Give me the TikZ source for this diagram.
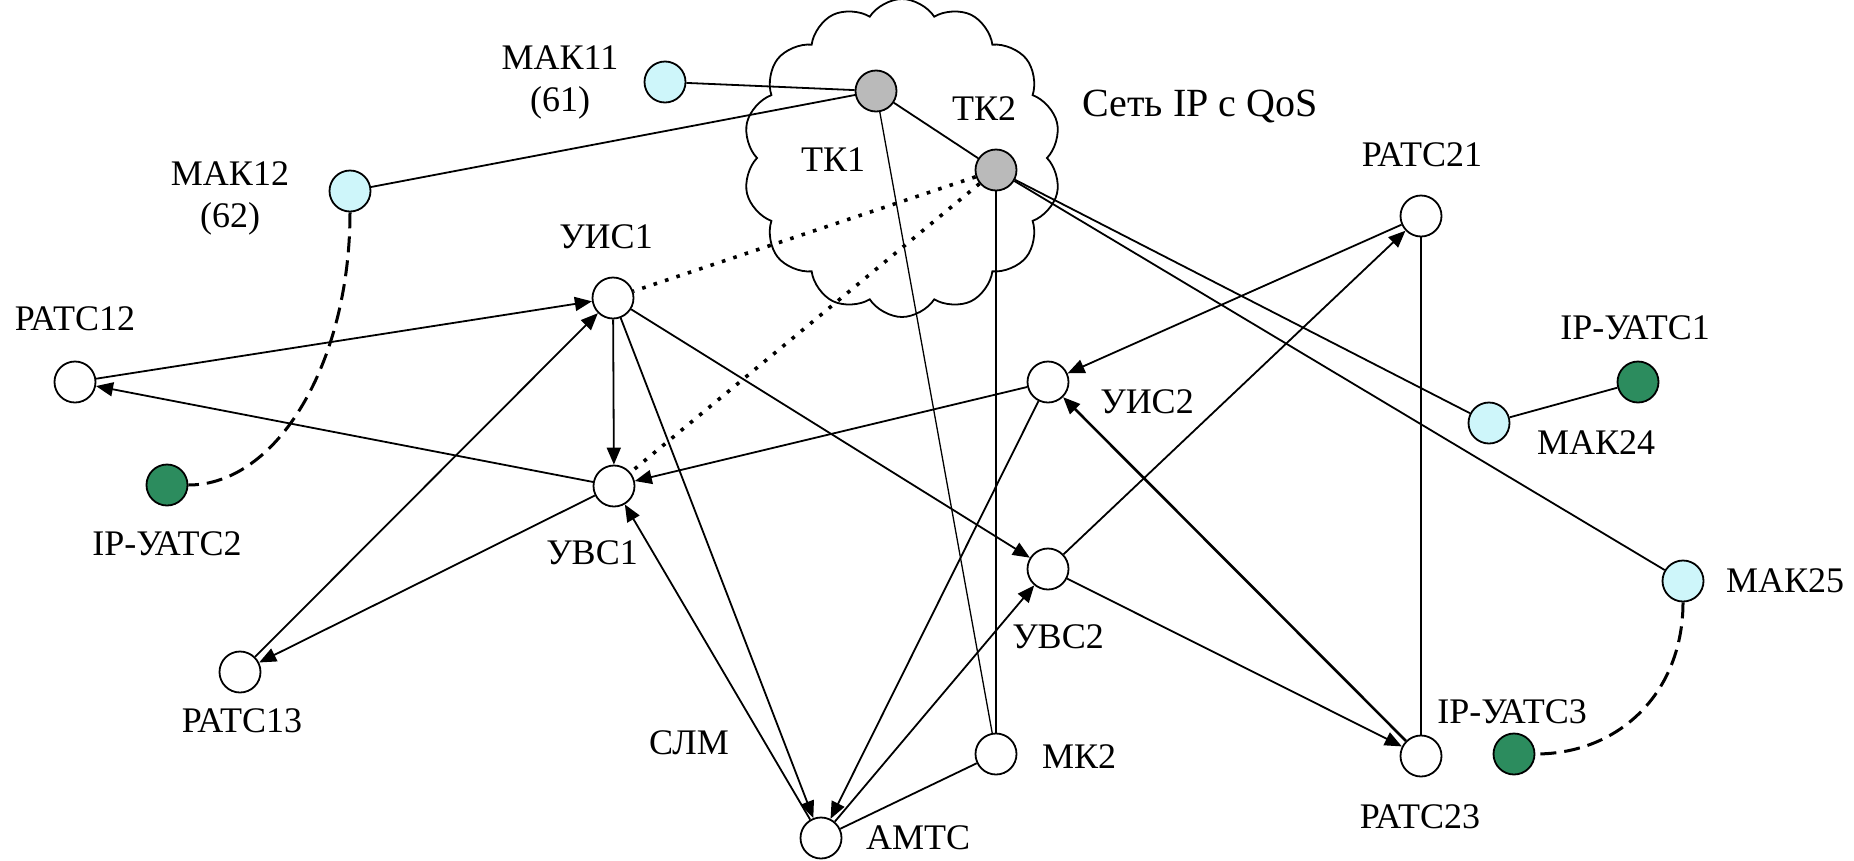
\documentclass[tikz,border=0pt]{standalone}
\usepackage{fontspec}
\setmainfont{Liberation Serif}
\usetikzlibrary{arrows.meta,shapes.symbols}
\definecolor{gwcyan}{RGB}{206,246,250}
\definecolor{coregray}{RGB}{186,186,186}
\definecolor{ipgreen}{RGB}{44,140,94}
\begin{document}
\begin{tikzpicture}[x=1pt,y=-1pt,
  station/.style={circle,draw,line width=1.8pt,minimum size=41pt,inner sep=0pt},
  exch/.style={station,fill=white},
  gw/.style={station,fill=gwcyan},
  core/.style={station,fill=coregray},
  ipx/.style={station,fill=ipgreen},
  lbl/.style={font=\fontsize{36}{42}\selectfont,inner sep=0pt,align=center},
  link/.style={line width=1.8pt},
  thinlink/.style={line width=1.3pt},
  arr/.style={link,-{Triangle[length=17pt,width=14pt]}},
  boldarr/.style={line width=2.6pt,-{Triangle[length=17pt,width=14pt]}},
  dots/.style={line width=3.6pt,dash pattern=on 3.6pt off 8.4pt},
  ipcurve/.style={line width=3pt,dash pattern=on 16pt off 8pt}]
\useasboundingbox (0,0) rectangle (1854,860);

% IP network cloud
\node[cloud,draw,line width=1.8pt,fill=white,cloud puffs=14,cloud puff arc=115,
      aspect=1,minimum width=318pt,minimum height=318pt] (net) at (902,158) {};

% exchanges
\node[exch] (uis1) at (613,298) {};
\node[exch] (uvs1) at (614,486) {};
\node[exch] (rats12) at (75,382) {};
\node[exch] (rats13) at (240,672) {};
\node[exch] (amts) at (821,838) {};
\node[exch] (mk2) at (996,754) {};
\node[exch] (uis2) at (1048,382) {};
\node[exch] (uvs2) at (1048,569) {};
\node[exch] (rats21) at (1421,216) {};
\node[exch] (rats23) at (1421,756) {};
% access gateways
\node[gw] (mak11) at (665,82) {};
\node[gw] (mak12) at (350,191) {};
\node[gw] (mak24) at (1489,423) {};
\node[gw] (mak25) at (1683,581) {};
% transit nodes
\node[core] (tk1) at (876,91) {};
\node[core] (tk2) at (996,170) {};
% IP PBX
\node[ipx] (ipa1) at (1638,382) {};
\node[ipx] (ipa2) at (167,485) {};
\node[ipx] (ipa3) at (1514,754) {};

% labels
\node[lbl] (l-mak11) at (560,82) {МАК11\\(61)};
\node[lbl] (l-mak12) at (230,198) {МАК12\\(62)};
\node[lbl] (l-tk1) at (833,160) {ТК1};
\node[lbl] (l-tk2) at (984,109) {ТК2};
\node[lbl,font=\fontsize{40}{46}\selectfont] (l-net) at (1200,106) {Сеть IP с QoS};
\node[lbl] (l-uis1) at (606,237) {УИС1};
\node[lbl] (l-rats12) at (75,319) {РАТС12};
\node[lbl] (l-ipa2) at (167,544) {IP-УАТС2};
\node[lbl] (l-uvs1) at (592,553) {УВС1};
\node[lbl] (l-rats13) at (242,721) {РАТС13};
\node[lbl] (l-slm) at (689,743) {СЛМ};
\node[lbl] (l-amts) at (918,838) {АМТС};
\node[lbl] (l-mk2) at (1079,757) {МК2};
\node[lbl] (l-uis2) at (1147,402) {УИС2};
\node[lbl] (l-uvs2) at (1058,637) {УВС2};
\node[lbl] (l-rats21) at (1422,155) {РАТС21};
\node[lbl] (l-ipa1) at (1635,328) {IP-УАТС1};
\node[lbl] (l-mak24) at (1596,443) {МАК24};
\node[lbl] (l-mak25) at (1785,581) {МАК25};
\node[lbl] (l-rats23) at (1420,817) {РАТС23};
\node[lbl] (l-ipa3) at (1512,712) {IP-УАТС3};

% IP links
\draw[link] (mak11) -- (tk1);
\draw[link] (mak12) -- (tk1);
\draw[link] (tk1) -- (tk2);
\draw[thinlink] (tk1) -- (mk2);
\draw[thinlink] (tk2) -- (mk2);
\draw[link] (tk2) -- (mak24);
\draw[link] (tk2) -- (mak25);
\draw[link] (mak24) -- (ipa1);
\draw[dots] (tk2) -- (uis1);
\draw[dots] (tk2) -- (uvs1);
\draw[ipcurve] (mak12.south) .. controls +(0,150) and +(89,0) .. (ipa2.east);
\draw[ipcurve] (mak25.south) .. controls +(0,89) and +(85,0) .. (ipa3.east);

% circuit-switched links
\draw[arr] (rats12) -- (uis1);
\draw[arr] (uvs1) -- (rats12);
\draw[arr] (uis1) -- (uvs1);
\draw[arr] (rats13) -- (uis1);
\draw[arr] (uvs1) -- (rats13);
\draw[arr] (uis1) -- (amts);
\draw[arr] (uis1) -- (uvs2);
\draw[arr] (amts) -- (uvs1);
\draw[arr] (uis2) -- (uvs1);
\draw[arr] (uis2) -- (amts);
\draw[arr] (amts) -- (uvs2);
\draw[link] (amts) -- (mk2);
\draw[arr] (uvs2) -- (rats21);
\draw[arr] (rats21) -- (uis2);
\draw[link] (rats21) -- (rats23);
\draw[arr] (uvs2) -- (rats23);
\draw[boldarr] (rats23) -- (uis2);
\end{tikzpicture}
\end{document}
